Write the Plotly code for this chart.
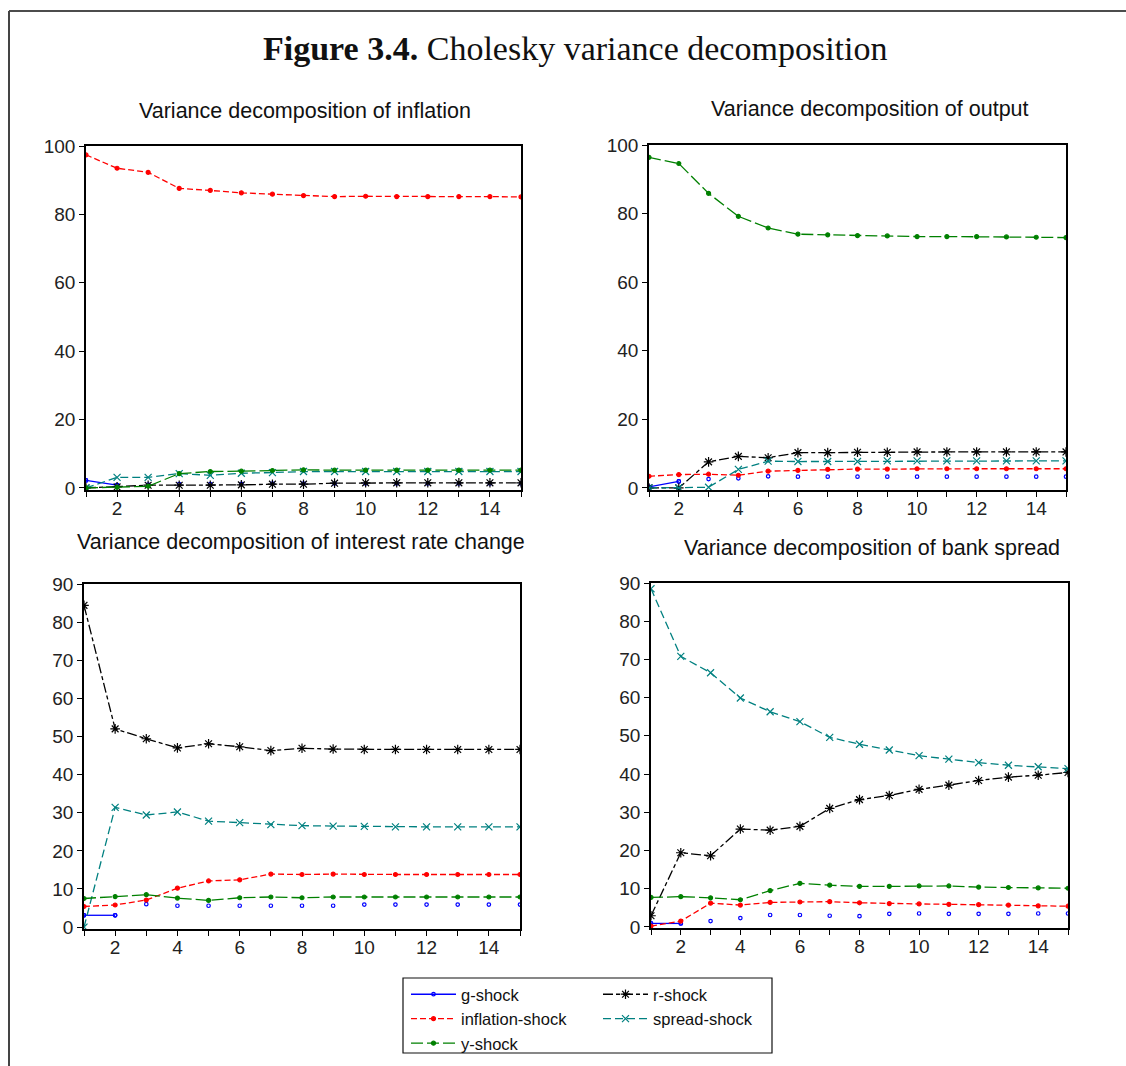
import plotly.graph_objects as go

# ---------------- data ----------------
periods = list(range(1, 16))
xtick_text = [str(p) if p % 2 == 0 else "" for p in periods]

shock_names = ["g-shock", "r-shock", "inflation-shock", "spread-shock", "y-shock"]

panel_titles = [
    "Variance decomposition of inflation",
    "Variance decomposition of output",
    "Variance decomposition of interest rate change",
    "Variance decomposition of bank spread",
]

# Variance decomposition of inflation
infl_g = [2.2, 0.8, 1.0, 1.1, 1.1, 1.2, 1.3, 1.3, 1.3, 1.3, 1.3, 1.3, 1.3, 1.3, 1.3]
infl_r = [0.0, 0.3, 0.8, 0.8, 0.8, 0.9, 1.1, 1.1, 1.4, 1.5, 1.5, 1.5, 1.5, 1.5, 1.5]
infl_infl = [97.4, 93.5, 92.3, 87.6, 87.0, 86.3, 85.9, 85.5, 85.2, 85.3, 85.2, 85.2, 85.2, 85.2, 85.1]
infl_spread = [0.0, 3.1, 3.1, 4.2, 3.7, 4.3, 4.5, 4.8, 4.8, 4.8, 4.8, 4.8, 4.8, 4.8, 4.8]
infl_y = [0.0, 0.2, 0.5, 4.2, 4.8, 4.9, 5.1, 5.3, 5.2, 5.2, 5.2, 5.2, 5.2, 5.2, 5.2]

# Variance decomposition of output
out_g = [0.3, 1.9, 2.6, 2.8, 3.4, 3.3, 3.3, 3.3, 3.3, 3.3, 3.3, 3.3, 3.3, 3.3, 3.3]
out_r = [0.0, 0.0, 7.6, 9.2, 8.8, 10.3, 10.3, 10.4, 10.4, 10.5, 10.5, 10.5, 10.5, 10.5, 10.5]
out_infl = [3.4, 3.9, 4.0, 3.7, 4.9, 5.1, 5.4, 5.5, 5.5, 5.6, 5.6, 5.6, 5.6, 5.6, 5.6]
out_spread = [0.0, 0.0, 0.2, 5.4, 7.8, 7.7, 7.7, 7.7, 7.9, 7.9, 7.9, 7.9, 7.9, 7.9, 7.9]
out_y = [96.4, 94.6, 85.9, 79.2, 75.8, 74.0, 73.8, 73.6, 73.5, 73.3, 73.3, 73.3, 73.2, 73.1, 73.0]

# Variance decomposition of interest rate change
rate_g = [3.1, 3.1, 6.0, 5.6, 5.6, 5.6, 5.6, 5.6, 5.6, 5.9, 5.9, 5.9, 5.9, 5.9, 5.9]
rate_r = [84.4, 52.0, 49.4, 47.0, 48.1, 47.3, 46.3, 46.9, 46.7, 46.6, 46.6, 46.6, 46.6, 46.6, 46.6]
rate_infl = [5.4, 5.8, 7.1, 10.2, 12.1, 12.4, 13.9, 13.8, 13.9, 13.8, 13.8, 13.8, 13.8, 13.8, 13.8]
rate_spread = [0.0, 31.4, 29.4, 30.2, 27.8, 27.4, 26.9, 26.6, 26.5, 26.4, 26.3, 26.3, 26.3, 26.3, 26.3]
rate_y = [7.5, 8.0, 8.5, 7.6, 7.0, 7.7, 7.9, 7.7, 7.9, 7.9, 7.9, 7.9, 7.9, 7.9, 7.9]

# Variance decomposition of bank spread
spr_g = [0.9, 0.9, 1.5, 2.3, 3.1, 3.1, 2.9, 2.8, 3.4, 3.5, 3.4, 3.4, 3.4, 3.5, 3.5]
spr_r = [2.9, 19.4, 18.6, 25.6, 25.3, 26.3, 31.0, 33.3, 34.4, 36.0, 37.1, 38.3, 39.2, 39.7, 40.4]
spr_infl = [0.2, 1.5, 6.2, 5.7, 6.4, 6.5, 6.6, 6.3, 6.1, 6.0, 5.9, 5.8, 5.7, 5.5, 5.4]
spr_spread = [88.5, 70.8, 66.5, 59.9, 56.3, 53.7, 49.6, 47.8, 46.3, 44.8, 43.9, 43.0, 42.3, 41.9, 41.4]
spr_y = [7.7, 7.9, 7.6, 7.1, 9.5, 11.4, 10.9, 10.6, 10.6, 10.7, 10.7, 10.4, 10.3, 10.2, 10.1]

panels = [
    [infl_g, infl_r, infl_infl, infl_spread, infl_y],
    [out_g, out_r, out_infl, out_spread, out_y],
    [rate_g, rate_r, rate_infl, rate_spread, rate_y],
    [spr_g, spr_r, spr_infl, spr_spread, spr_y],
]

y_ticks_top = [0, 20, 40, 60, 80, 100]
y_ticks_bottom = [0, 10, 20, 30, 40, 50, 60, 70, 80, 90]

# ---------------- styles ----------------
W, H = 1126, 1066
FONT = "Liberation Sans, Arial, sans-serif"

styles = {
    "g-shock": dict(color="#0000ff", dash="solid", symbol="circle-open", size=3.5),
    "r-shock": dict(color="#000000", dash="10px,3px,4px,3px", symbol="asterisk-open", size=8),
    "inflation-shock": dict(color="#ff0000", dash="6px,3px", symbol="circle", size=4),
    "spread-shock": dict(color="#008080", dash="8px,4px", symbol="x-thin-open", size=7),
    "y-shock": dict(color="#008000", dash="12px,4px", symbol="circle", size=4),
}

def px_x(p):
    return p / W

def px_y(p):
    return 1 - p / H

# plot-area boxes in pixels: (left, right, top, bottom)
boxes = [(86, 521, 146, 490), (649, 1066, 145, 490), (84, 520, 584, 929), (651, 1068, 583, 928)]
yranges = [[-0.6, 100], [-0.6, 100], [-0.5, 90], [-0.3, 90]]
yticks = [y_ticks_top, y_ticks_top, y_ticks_bottom, y_ticks_bottom]
title_pos = [(305, 111), (870, 109), (301, 542), (872, 548)]

fig = go.Figure()
legend_of = {"g-shock": "legend", "inflation-shock": "legend", "y-shock": "legend",
             "r-shock": "legend2", "spread-shock": "legend2"}

for i, series in enumerate(panels):
    xa = "x" if i == 0 else f"x{i+1}"
    ya = "y" if i == 0 else f"y{i+1}"
    for name, vals in zip(shock_names, series):
        st = styles[name]
        mk = dict(symbol=st["symbol"], size=st["size"], color=st["color"],
                  line=dict(width=1.2, color=st["color"]))
        if name == "g-shock":
            # line drawn only for the first segment, then markers only (as in the source)
            fig.add_trace(go.Scatter(
                x=periods[:2], y=vals[:2], mode="lines+markers", name=name,
                line=dict(color=st["color"], width=1.3, dash=st["dash"]), marker=mk,
                xaxis=xa, yaxis=ya, showlegend=(i == 0), legend=legend_of[name]))
            fig.add_trace(go.Scatter(
                x=periods, y=vals, mode="markers", name=name, marker=mk,
                xaxis=xa, yaxis=ya, showlegend=False))
        else:
            fig.add_trace(go.Scatter(
                x=periods, y=vals, mode="lines+markers", name=name,
                line=dict(color=st["color"], width=1.3, dash=st["dash"]), marker=mk,
                xaxis=xa, yaxis=ya, showlegend=(i == 0), legend=legend_of[name]))

axis_common = dict(showline=True, linecolor="black", linewidth=1.6, mirror=True,
                   ticks="outside", ticklen=5, tickcolor="black", tickwidth=1,
                   showgrid=False, zeroline=False,
                   tickfont=dict(family=FONT, size=19, color="#222"))

layout_axes = {}
for i, (l, r, t, b) in enumerate(boxes):
    xk = "xaxis" if i == 0 else f"xaxis{i+1}"
    yk = "yaxis" if i == 0 else f"yaxis{i+1}"
    xa = "x" if i == 0 else f"x{i+1}"
    ya = "y" if i == 0 else f"y{i+1}"
    layout_axes[xk] = dict(axis_common, domain=[px_x(l), px_x(r)], range=[1, 15],
                           tickmode="array", tickvals=periods, ticktext=xtick_text,
                           anchor=ya, ticklabelstandoff=-5)
    layout_axes[yk] = dict(axis_common, domain=[px_y(b), px_y(t)], range=yranges[i],
                           tickmode="array", tickvals=yticks[i], anchor=xa)

annotations = [
    dict(text="<b>Figure 3.4.</b> Cholesky variance decomposition", x=px_x(575), y=px_y(48),
         xref="paper", yref="paper", showarrow=False, xanchor="center", yanchor="middle",
         font=dict(family="Liberation Serif, Times New Roman, serif", size=34, color="#111")),
]
for txt, (cx, cy) in zip(panel_titles, title_pos):
    annotations.append(dict(text=txt, x=px_x(cx), y=px_y(cy), xref="paper", yref="paper",
                            showarrow=False, xanchor="center", yanchor="middle",
                            font=dict(family=FONT, size=21.5, color="#111")))

shapes = [
    dict(type="line", xref="paper", yref="paper", x0=px_x(9), x1=1, y0=px_y(11), y1=px_y(11),
         line=dict(color="#111", width=1.5)),
    dict(type="line", xref="paper", yref="paper", x0=px_x(9), x1=px_x(9), y0=px_y(11), y1=0,
         line=dict(color="#444", width=2)),
    dict(type="rect", xref="paper", yref="paper", x0=px_x(403), x1=px_x(772),
         y0=px_y(1053), y1=px_y(978), line=dict(color="#111", width=1.2)),
]

legend_common = dict(bgcolor="rgba(0,0,0,0)", borderwidth=0, orientation="v",
                     font=dict(family=FONT, size=16.5, color="#111"),
                     xanchor="left", yanchor="top", tracegroupgap=0, itemwidth=45)

fig.update_layout(
    width=W, height=H, margin=dict(l=0, r=0, t=0, b=0, autoexpand=False),
    paper_bgcolor="white", plot_bgcolor="white",
    annotations=annotations, shapes=shapes,
    legend=dict(legend_common, x=px_x(406), y=px_y(977)),
    legend2=dict(legend_common, x=px_x(598), y=px_y(977)),
    **layout_axes,
)

fig.write_html("out.html", config={"displayModeBar": False},
               post_script="document.body.style.margin='0';")
